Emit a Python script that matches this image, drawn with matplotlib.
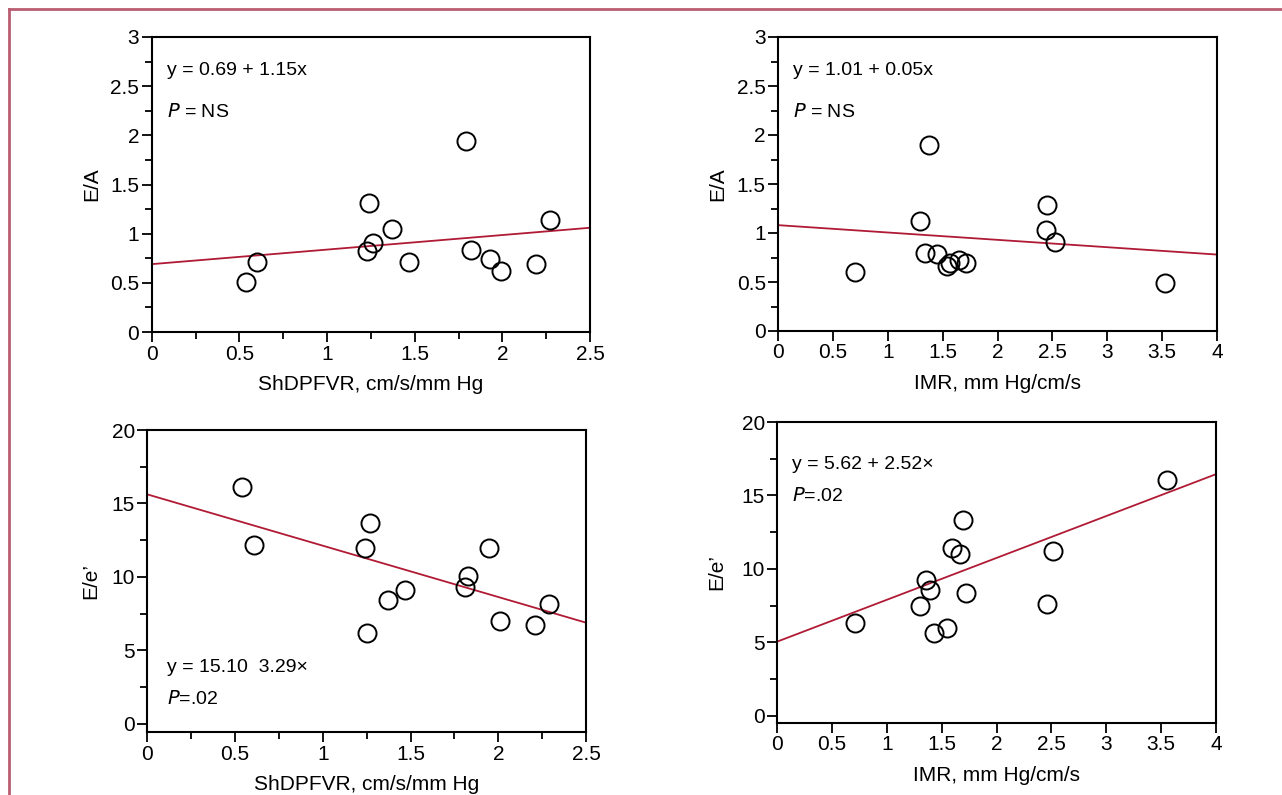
import matplotlib
matplotlib.use('Agg')
import matplotlib.pyplot as plt
from matplotlib.ticker import MultipleLocator, FuncFormatter
from matplotlib.lines import Line2D

plt.rcParams['font.family'] = ['Liberation Sans', 'DejaVu Sans']

# E/A vs ShDPFVR
ea_shd_x = [0.54, 0.60, 1.24, 1.26, 1.23, 1.37, 1.47, 1.79, 1.82, 1.93, 1.99, 2.19, 2.27]
ea_shd_y = [0.51, 0.71, 1.31, 0.91, 0.82, 1.05, 0.71, 1.94, 0.83, 0.74, 0.62, 0.69, 1.14]
ea_shd_fit = [0.69, 1.06]

# E/A vs IMR
ea_imr_x = [0.70, 1.37, 1.29, 1.34, 1.45, 1.54, 1.57, 1.65, 1.71, 2.45, 2.44, 2.52, 3.53]
ea_imr_y = [0.60, 1.90, 1.12, 0.80, 0.79, 0.66, 0.69, 0.72, 0.69, 1.29, 1.03, 0.91, 0.49]
ea_imr_fit = [1.08, 0.78]

# E/e' vs ShDPFVR
ee_shd_x = [0.54, 0.61, 1.27, 1.24, 1.25, 1.37, 1.47, 1.83, 1.81, 1.95, 2.01, 2.21, 2.29]
ee_shd_y = [16.1, 12.2, 13.7, 11.95, 6.2, 8.4, 9.1, 10.05, 9.35, 11.95, 7.0, 6.7, 8.15]
ee_shd_fit = [15.62, 6.89]

# E/e' vs IMR
ee_imr_x = [0.71, 1.30, 1.36, 1.39, 1.43, 1.55, 1.59, 1.67, 1.69, 1.72, 2.51, 2.46, 3.55]
ee_imr_y = [6.3, 7.45, 9.25, 8.55, 5.65, 5.95, 11.45, 11.0, 13.35, 8.35, 11.25, 7.6, 16.05]
ee_imr_fit = [5.06, 16.45]

W, H = 1282, 795
fig = plt.figure(figsize=(W / 100, H / 100), dpi=100)

def box(l, r, t, b):
    return [l / W, (H - b) / H, (r - l) / W, (b - t) / H]

line_col = '#b01a35'
fmt = FuncFormatter(lambda v, p: '%g' % v)

def panel(rect, x, y, fit, xmax, ylim, ymaj, ymin, xminor, xlabel, ylabel, ypad, texts):
    ax = fig.add_axes(rect)
    ax.plot(x, y, 'o', mfc='none', mec='black', ms=13, mew=1.4, zorder=3)
    ax.plot([0, xmax], fit, color=line_col, lw=1.3, zorder=2)
    ax.set_xlim(0, xmax)
    ax.set_ylim(*ylim)
    ax.xaxis.set_major_locator(MultipleLocator(0.5))
    if xminor:
        ax.xaxis.set_minor_locator(MultipleLocator(0.25))
    ax.yaxis.set_major_locator(MultipleLocator(ymaj))
    ax.yaxis.set_minor_locator(MultipleLocator(ymin))
    ax.xaxis.set_major_formatter(fmt)
    ax.yaxis.set_major_formatter(fmt)
    ax.tick_params(which='both', direction='out', length=7, width=1.3, labelsize=15, pad=2)
    ax.tick_params(which='minor', length=5)
    for s in ax.spines.values():
        s.set_linewidth(1.5)
    ax.set_xlabel(xlabel, fontsize=15, labelpad=8)
    ax.set_ylabel(ylabel, fontsize=15, labelpad=ypad)
    for (tx, ty, s) in texts:
        ax.text(tx, ty, s, transform=ax.transAxes, fontsize=14, ha='left', va='center')
    return ax

panel(box(151.7, 590, 37, 332), ea_shd_x, ea_shd_y, ea_shd_fit, 2.5, (0, 3), 0.5, 0.25, True,
      'ShDPFVR, cm/s/mm Hg', 'E/A', 6,
      [(0.036, 0.885, 'y = 0.69 + 1.15x'), (0.036, 0.745, '$\\it{P}$ = NS')])
panel(box(778.3, 1217, 37, 331), ea_imr_x, ea_imr_y, ea_imr_fit, 4, (0, 3), 0.5, 0.25, False,
      'IMR, mm Hg/cm/s', 'E/A', 7,
      [(0.034, 0.885, 'y = 1.01 + 0.05x'), (0.034, 0.745, '$\\it{P}$ = NS')])
panel(box(147.3, 586, 430, 732), ee_shd_x, ee_shd_y, ee_shd_fit, 2.5, (-0.55, 20), 5, 2.5, True,
      'ShDPFVR, cm/s/mm Hg', 'E/e\u2019', 8,
      [(0.046, 0.215, 'y = 15.10  3.29\u00d7'), (0.046, 0.11, '$\\it{P}$=.02')])
panel(box(777.3, 1216, 422, 723), ee_imr_x, ee_imr_y, ee_imr_fit, 4, (-0.48, 20), 5, 2.5, False,
      'IMR, mm Hg/cm/s', 'E/e\u2019', 11,
      [(0.034, 0.86, 'y = 5.62 + 2.52\u00d7'), (0.034, 0.755, '$\\it{P}$=.02')])

# outer frame
frame_col = '#bb5d72'
fig.add_artist(Line2D([9 / W, 9 / W], [0, 1 - 9 / H], color=frame_col, lw=2))
fig.add_artist(Line2D([9 / W, 1], [1 - 9 / H, 1 - 9 / H], color=frame_col, lw=2))

fig.savefig('out.png', dpi=100)
